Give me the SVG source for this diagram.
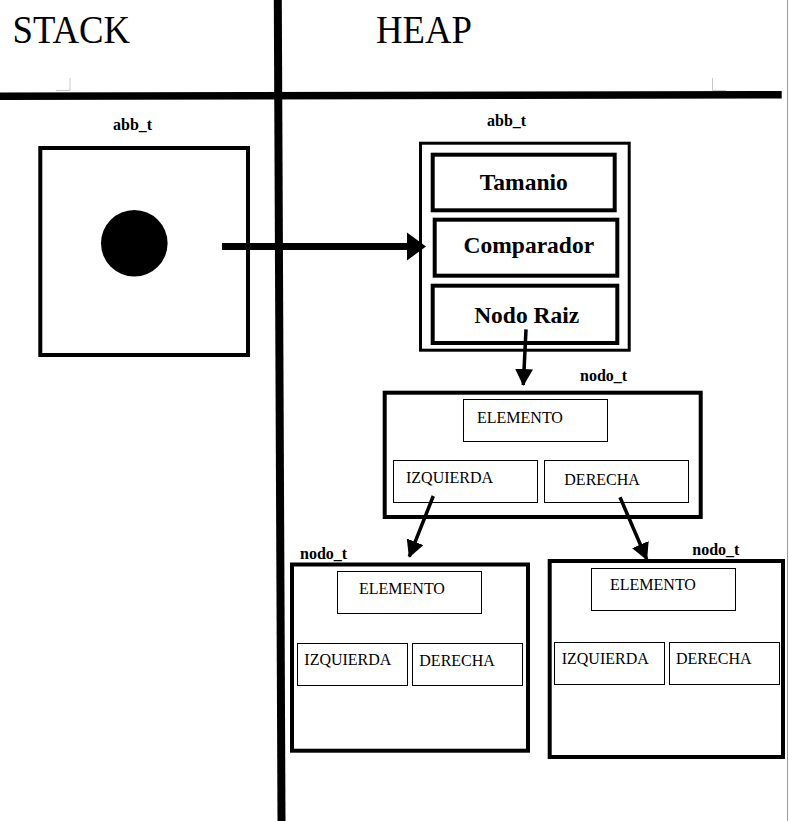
<svg xmlns="http://www.w3.org/2000/svg" width="789" height="821" viewBox="0 0 789 821">
<style>
.serif{font-family:"Liberation Serif","Times New Roman",serif;fill:#000}
.lbl{font-size:16px;font-weight:bold}
.fld{font-size:23.5px;font-weight:bold;text-anchor:middle}
.cell{font-size:16px}
.thick{fill:none;stroke:#000;stroke-width:4}
.mid{fill:none;stroke:#000;stroke-width:3}
.thin{fill:#fff;stroke:#000;stroke-width:1}
.conn{stroke:#000;stroke-width:3.5;fill:none}
.mark{stroke:#c8c8c8;stroke-width:1;fill:none}
</style>
<defs>
<marker id="ah" markerUnits="userSpaceOnUse" markerWidth="18" markerHeight="18" viewBox="0 0 18 18" refX="16" refY="9" orient="auto">
<path d="M0,0 L17,9 L0,18 Z" fill="#000"/>
</marker>
</defs>
<rect width="789" height="821" fill="#fff"/>
<g id="frame">
<line x1="787.5" y1="0" x2="787.5" y2="821" stroke="#9a9a9a" stroke-width="1"/>
<polyline class="mark" points="70,78 70,90.5 56,90.5"/>
<polyline class="mark" points="712.5,78 712.5,90.5 726,90.5"/>
<line x1="0" y1="96.3" x2="781.7" y2="94.7" stroke="#000" stroke-width="7.5"/>
<line x1="277.8" y1="0" x2="281.5" y2="821" stroke="#000" stroke-width="8"/>
<text class="serif" x="12.5" y="42.5" font-size="39" textLength="117.5" lengthAdjust="spacingAndGlyphs">STACK</text>
<text class="serif" x="376" y="42.5" font-size="39" textLength="96" lengthAdjust="spacingAndGlyphs">HEAP</text>
</g>
<g id="stack_abb">
<text class="serif lbl" x="113" y="130">abb_t</text>
<rect class="thick" x="40.3" y="148" width="207.7" height="207"/>
<circle cx="134.3" cy="243.3" r="33.3" fill="#000"/>
</g>
<g id="heap_abb">
<text class="serif lbl" x="487" y="126">abb_t</text>
<rect class="mid" x="420.5" y="143.2" width="208.7" height="207"/>
<rect class="thick" x="432.7" y="154.7" width="182" height="55.6"/>
<text class="serif fld" x="523.8" y="190">Tamanio</text>
<rect class="thick" x="434.7" y="219.7" width="182.6" height="56"/>
<text class="serif fld" x="528.8" y="252.7">Comparador</text>
<rect class="thick" x="432.7" y="285.7" width="184.6" height="57.3"/>
<text class="serif fld" x="526.7" y="322.7">Nodo Raiz</text>
</g>
<g id="nodo_root">
<text class="serif lbl" x="580" y="381">nodo_t</text>
<rect class="thick" x="384.7" y="392.7" width="316" height="124.3"/>
<rect class="thin" x="463.5" y="399.5" width="144" height="42"/>
<text class="serif cell" x="477" y="423.3">ELEMENTO</text>
<rect class="thin" x="393.5" y="460.5" width="144" height="42"/>
<text class="serif cell" x="406" y="483.3">IZQUIERDA</text>
<rect class="thin" x="544.5" y="460.5" width="144" height="42"/>
<text class="serif cell" x="564.3" y="485">DERECHA</text>
</g>
<g id="nodo_left">
<text class="serif lbl" x="300" y="559.3">nodo_t</text>
<rect class="thick" x="292" y="564.5" width="236" height="186.2"/>
<rect class="thin" x="337.5" y="571.5" width="144" height="42"/>
<text class="serif cell" x="359" y="594">ELEMENTO</text>
<rect class="thin" x="297.5" y="643.5" width="110" height="42"/>
<text class="serif cell" x="304.3" y="664.5">IZQUIERDA</text>
<rect class="thin" x="412.5" y="643.5" width="110" height="42"/>
<text class="serif cell" x="419.3" y="665.5">DERECHA</text>
</g>
<g id="nodo_right">
<text class="serif lbl" x="692.3" y="555">nodo_t</text>
<rect class="thick" x="549.7" y="561" width="233.3" height="196"/>
<rect class="thin" x="591.5" y="568.5" width="144" height="42"/>
<text class="serif cell" x="610" y="590">ELEMENTO</text>
<rect class="thin" x="554.5" y="642.5" width="110" height="42"/>
<text class="serif cell" x="561.7" y="664">IZQUIERDA</text>
<rect class="thin" x="669.5" y="642.5" width="110" height="42"/>
<text class="serif cell" x="676" y="664">DERECHA</text>
</g>
<g id="connectors">
<line x1="222" y1="246.5" x2="410" y2="246.5" stroke="#000" stroke-width="7"/>
<polygon points="407,232.5 426,246.5 407,260.5" fill="#000"/>
<line class="conn" x1="526" y1="329.3" x2="523.3" y2="385" marker-end="url(#ah)"/>
<line class="conn" x1="433.3" y1="496" x2="409.3" y2="556.7" marker-end="url(#ah)"/>
<line class="conn" x1="620" y1="497.3" x2="646.7" y2="559.3" marker-end="url(#ah)"/>
</g>
</svg>
